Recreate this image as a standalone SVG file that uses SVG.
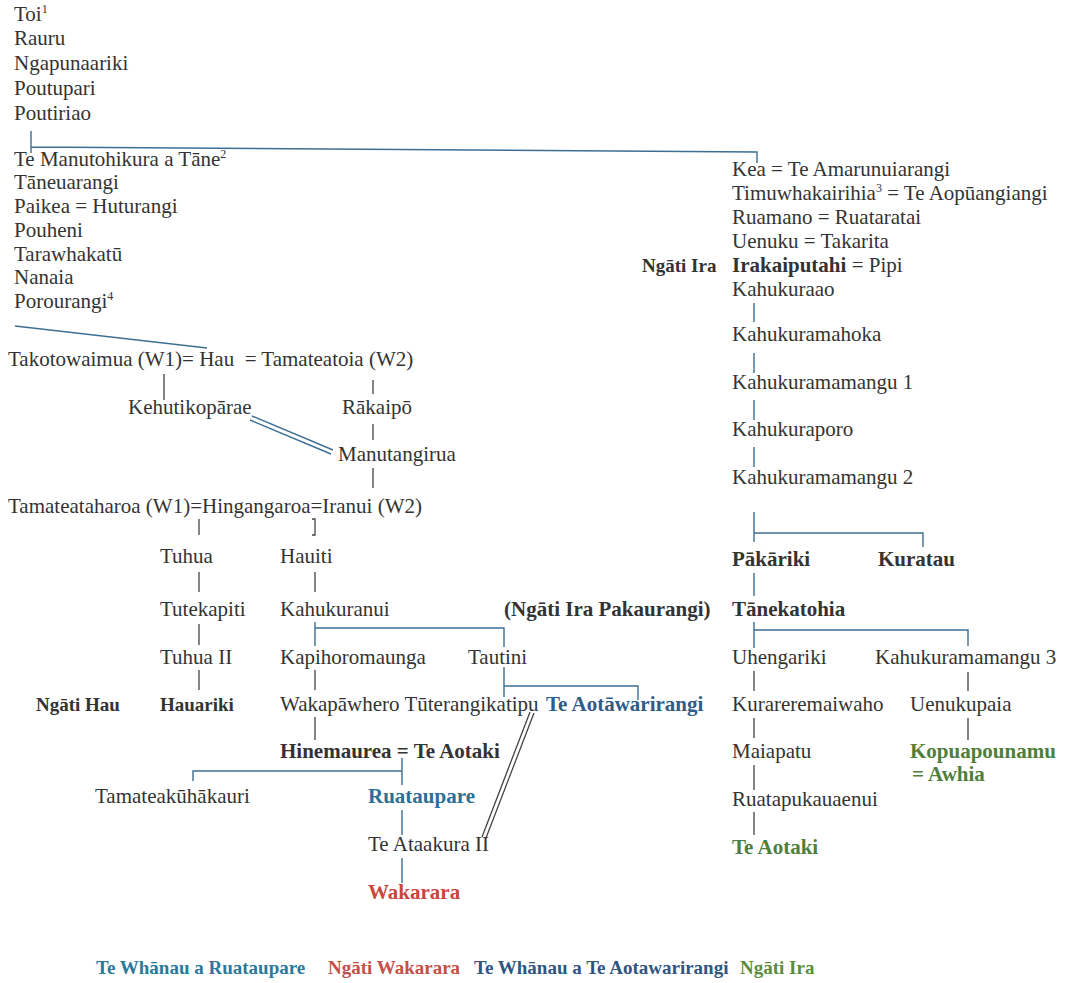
<svg xmlns="http://www.w3.org/2000/svg" width="1079" height="983" viewBox="0 0 1079 983">
<style>
text{font-family:"Liberation Serif","Times New Roman",serif;font-size:21px;fill:#333}
.b{font-weight:bold}
.sup{font-size:12px}
.ln{stroke:#3d6f94;stroke-width:1.4;fill:none}
.blk{stroke:#444;stroke-width:1.3;fill:none}
.blue{fill:#2b7196}
.navy{fill:#2f5c88}
.red{fill:#c9453d}
.green{fill:#4f7f3b}
.lg{font-size:19px;font-weight:bold}
</style>
<rect width="1079" height="983" fill="#fff"/>
<g id="connectors">
<path class="ln" d="M31 131V153M31 147L757 152V163"/>
<path class="ln" d="M15 326L207 348"/>
<path class="blk" d="M164 374V400M373 380V394M373 424V440M373 468V488"/>
<path class="ln" d="M252 416L333 450M250 420L331 454"/>
<path class="blk" d="M199 519V535M312 519H315V535H312M199 572V592M315 572V592M199 624V645M199 670V690M315 670V690M315 717V740"/>
<path class="ln" d="M315 622V646M315 628H504V647M504 667V697M504 686H638V700"/>
<path class="ln" d="M193 781V771H402M402 758V785M402 810V835M402 858V883"/>
<path class="blk" d="M534 713L486 838M530 712L482 837"/>
<path class="ln" d="M754 303V322M754 353V373M754 400V420M754 447V467"/>
<path class="ln" d="M754 512V542M754 533H923V547M754 573V596M754 622V648M754 630H968V646"/>
<path class="blk" d="M754 671V691M968 672V691M754 718V738M968 718V740M754 765V790M754 812V835"/>
</g>
<g id="top-line">
<text x="14" y="21">Toi<tspan class="sup" dy="-8">1</tspan></text>
<text x="14" y="45">Rauru</text>
<text x="14" y="70">Ngapunaariki</text>
<text x="14" y="95">Poutupari</text>
<text x="14" y="120">Poutiriao</text>
</g>
<g id="left-line">
<text x="14" y="166">Te Manutohikura a Tāne<tspan class="sup" dy="-8">2</tspan></text>
<text x="14" y="189">Tāneuarangi</text>
<text x="14" y="213">Paikea = Huturangi</text>
<text x="14" y="237">Pouheni</text>
<text x="14" y="261">Tarawhakatū</text>
<text x="14" y="284">Nanaia</text>
<text x="14" y="308">Porourangi<tspan class="sup" dy="-8">4</tspan></text>
</g>
<g id="hau"><text x="8" y="366">Takotowaimua (W1)= Hau&#160; = Tamateatoia (W2)</text></g>
<g id="kehutikoparae"><text x="128" y="414">Kehutikopārae</text></g>
<g id="rakaipo"><text x="342" y="414">Rākaipō</text></g>
<g id="manutangirua"><text x="338" y="461">Manutangirua</text></g>
<g id="hingangaroa"><text x="8" y="513">Tamateataharoa (W1)=Hingangaroa=Iranui (W2)</text></g>
<g id="tuhua"><text x="160" y="563">Tuhua</text></g>
<g id="hauiti"><text x="280" y="563">Hauiti</text></g>
<g id="tutekapiti"><text x="160" y="616">Tutekapiti</text></g>
<g id="kahukuranui"><text x="280" y="616">Kahukuranui</text></g>
<g id="tuhua2"><text x="160" y="664">Tuhua II</text></g>
<g id="kapihoromaunga"><text x="280" y="664">Kapihoromaunga</text></g>
<g id="tautini"><text x="468" y="664">Tautini</text></g>
<g id="ngati-hau"><text class="b" x="36" y="711" style="font-size:19px">Ngāti Hau</text></g>
<g id="hauariki"><text class="b" x="160" y="711" style="font-size:19px">Hauariki</text></g>
<g id="wakapawhero"><text x="280" y="711">Wakapāwhero Tūterangikatipu</text></g>
<g id="te-aotawarirangi"><text class="b navy" x="546" y="711">Te Aotāwarirangi</text></g>
<g id="hinemaurea"><text class="b" x="280" y="758">Hinemaurea = Te Aotaki</text></g>
<g id="tamateakuhakauri"><text x="95" y="803">Tamateakūhākauri</text></g>
<g id="ruataupare"><text class="b blue" x="368" y="803">Ruataupare</text></g>
<g id="te-ataakura"><text x="368" y="851">Te Ataakura II</text></g>
<g id="wakarara"><text class="b red" x="368" y="899">Wakarara</text></g>
<g id="right-line">
<text x="732" y="176">Kea = Te Amarunuiarangi</text>
<text x="732" y="200">Timuwhakairihia<tspan class="sup" dy="-8">3</tspan><tspan dy="8"> = Te Aopūangiangi</tspan></text>
<text x="732" y="224">Ruamano = Ruataratai</text>
<text x="732" y="248">Uenuku = Takarita</text>
<text class="b" x="642" y="272" style="font-size:19px">Ngāti Ira</text>
<text x="732" y="272"><tspan class="b">Irakaiputahi</tspan> = Pipi</text>
<text x="732" y="296">Kahukuraao</text>
</g>
<g id="kahukuramahoka"><text x="732" y="341">Kahukuramahoka</text></g>
<g id="kahukuramamangu1"><text x="732" y="389">Kahukuramamangu 1</text></g>
<g id="kahukuraporo"><text x="732" y="436">Kahukuraporo</text></g>
<g id="kahukuramamangu2"><text x="732" y="484">Kahukuramamangu 2</text></g>
<g id="pakariki"><text class="b" x="732" y="566">Pākāriki</text></g>
<g id="kuratau"><text class="b" x="878" y="566">Kuratau</text></g>
<g id="pakaurangi"><text class="b" x="504" y="616">(Ngāti Ira Pakaurangi)</text></g>
<g id="tanekatohia"><text class="b" x="732" y="616">Tānekatohia</text></g>
<g id="uhengariki"><text x="732" y="664">Uhengariki</text></g>
<g id="kahukuramamangu3"><text x="875" y="664">Kahukuramamangu 3</text></g>
<g id="kurareremaiwaho"><text x="732" y="711">Kurareremaiwaho</text></g>
<g id="uenukupaia"><text x="910" y="711">Uenukupaia</text></g>
<g id="maiapatu"><text x="732" y="758">Maiapatu</text></g>
<g id="kopuapounamu"><text class="b green" x="910" y="758">Kopuapounamu</text><text class="b green" x="912" y="781">= Awhia</text></g>
<g id="ruatapukauaenui"><text x="732" y="806">Ruatapukauaenui</text></g>
<g id="te-aotaki"><text class="b green" x="732" y="854">Te Aotaki</text></g>
<g id="legend">
<text class="lg" x="96" y="974" style="fill:#2b7a9b">Te Whānau a Ruataupare</text>
<text class="lg" x="328" y="974" style="fill:#c4504a">Ngāti Wakarara</text>
<text class="lg" x="474" y="974" style="fill:#2f5582">Te Whānau a Te Aotawarirangi</text>
<text class="lg" x="740" y="974" style="fill:#5b8c3e">Ngāti Ira</text>
</g>
</svg>
